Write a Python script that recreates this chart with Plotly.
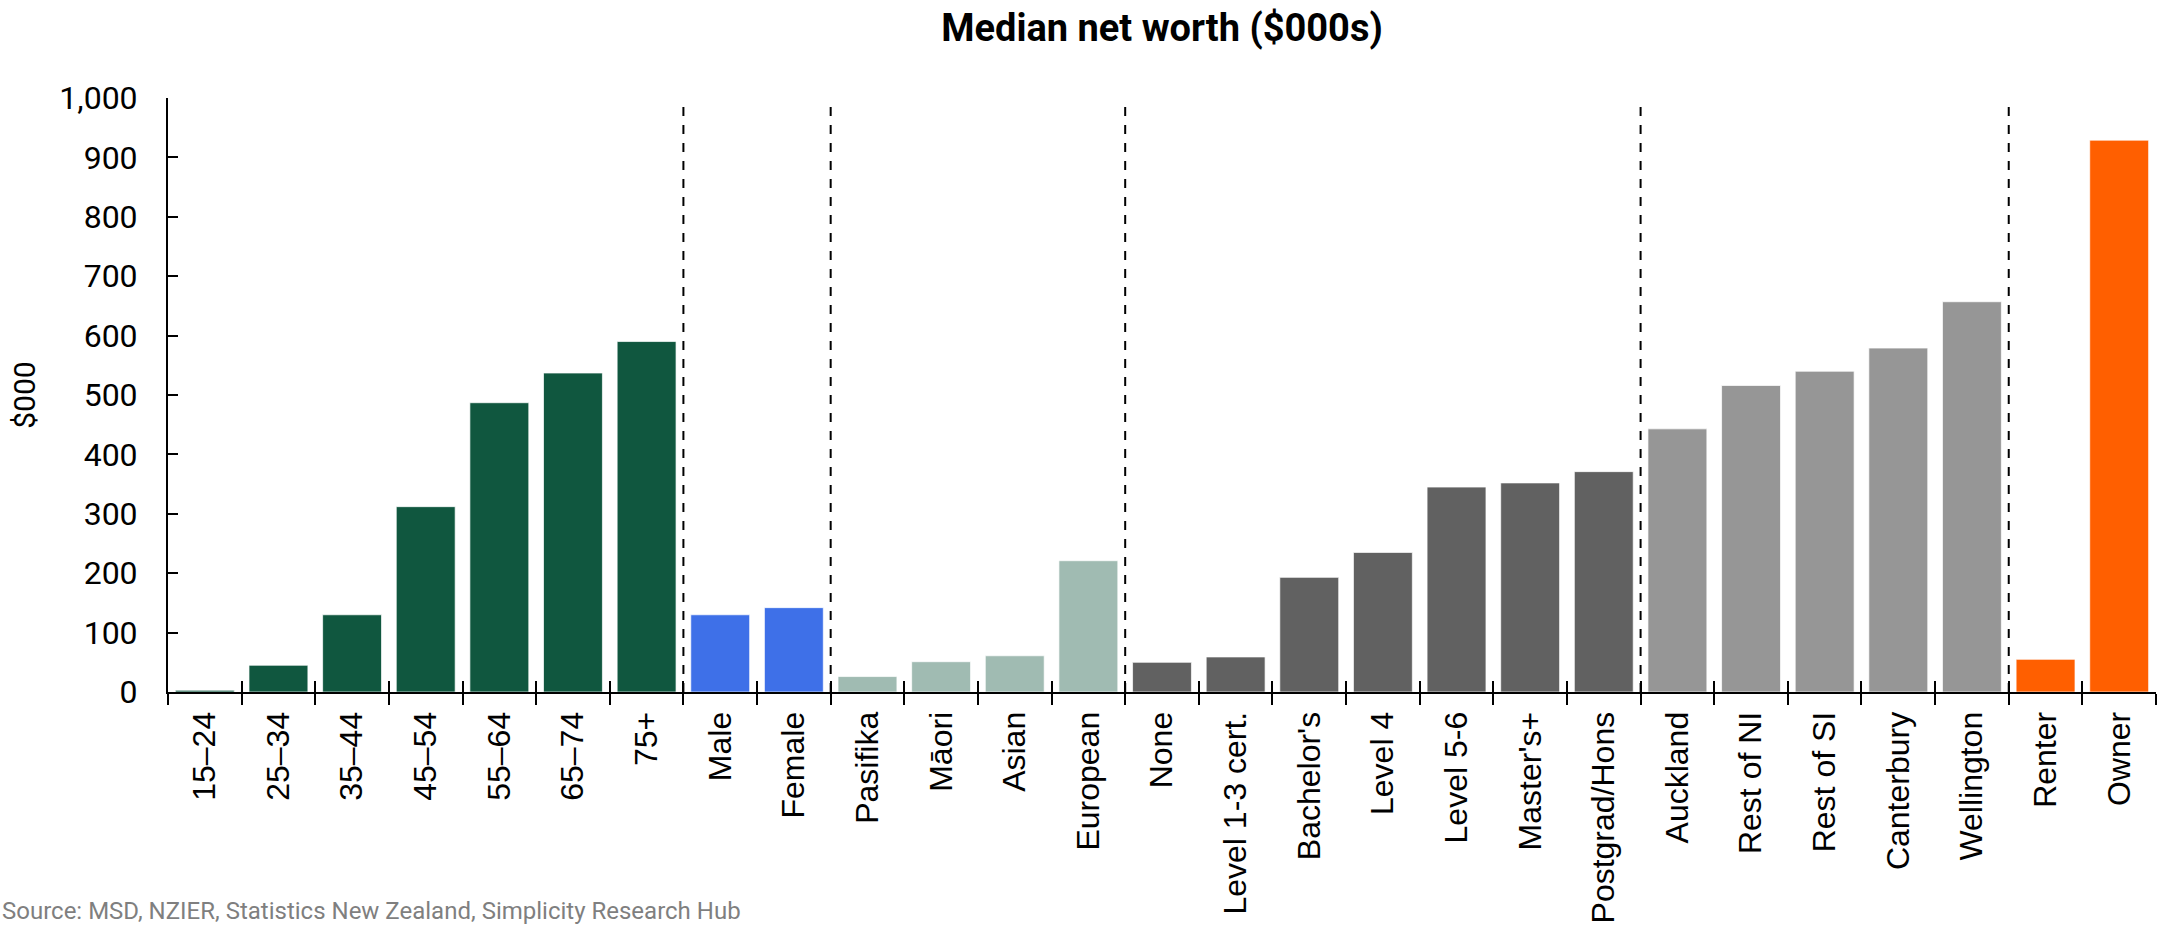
import plotly.graph_objects as go

# Median net worth by group, $000s
categories = [
    "15\u201324", "25\u201334", "35\u201344", "45\u201354", "55\u201364", "65\u201374", "75+",
    "Male", "Female",
    "Pasifika", "M\u0101ori", "Asian", "European",
    "None", "Level 1-3 cert.", "Bachelor's", "Level 4", "Level 5-6", "Master's+", "Postgrad/Hons",
    "Auckland", "Rest of NI", "Rest of SI", "Canterbury", "Wellington",
    "Renter", "Owner",
]
values = [
    3, 45, 130, 312, 487, 537, 590,
    130, 142,
    26, 51, 61, 221,
    50, 59, 193, 235, 345, 352, 371,
    443, 516, 540, 579, 657,
    55, 929,
]
group_sizes = [7, 2, 4, 7, 5, 2]
group_colors = ["#10573F", "#3E70E8", "#A0BBB2", "#616161", "#969696", "#FF5F00"]
y_ticks = list(range(0, 1001, 100))

# one colour per bar, taken from its group
bar_colors = []
for size, col in zip(group_sizes, group_colors):
    bar_colors += [col] * size

# dashed separators sit on the boundary after each group (except the last)
separators = []
pos = -0.5
for size in group_sizes[:-1]:
    pos += size
    separators.append(pos)

n = len(categories)
boundaries = [i - 0.5 for i in range(n + 1)]

fig = go.Figure()
fig.add_trace(go.Bar(
    x=categories, y=values,
    marker=dict(color=bar_colors, line=dict(color="rgba(255,255,255,0.7)", width=1)),
    showlegend=False, hoverinfo="x+y",
))
# invisible trace so the overlay axis (inward tick marks) is drawn
fig.add_trace(go.Scatter(
    x=[boundaries[0], boundaries[-1]], y=[0, 0], xaxis="x2", yaxis="y",
    mode="markers", marker=dict(opacity=0), showlegend=False, hoverinfo="skip",
))

for s in separators:
    fig.add_shape(type="line", xref="x", yref="y", x0=s, x1=s, y0=0, y1=1000,
                  line=dict(color="black", width=2, dash="dash"))

plot_left, plot_right = 168, 2156
plot_w = plot_right - plot_left

fig.update_layout(
    width=2172, height=931,
    margin=dict(l=plot_left, r=2172 - plot_right, t=98, b=239, autoexpand=False),
    paper_bgcolor="white", plot_bgcolor="white",
    bargap=0.2,
    title=dict(text="<b>Median net worth ($000s)</b>", x=0.5, xref="paper", xanchor="center",
               y=1 - 28 / 931, yanchor="middle", yref="container",
               font=dict(family="Roboto", size=38, color="black")),
    xaxis=dict(
        type="category", categoryorder="array", categoryarray=categories,
        range=[-0.5, n - 0.5], automargin=False,
        tickson="boundaries", ticks="outside", ticklen=11, tickwidth=2, tickcolor="black",
        showline=True, linecolor="black", linewidth=2, showgrid=False, zeroline=False,
        tickangle=-90, tickfont=dict(family="Liberation Sans", size=32, color="black"),
        ticklabelstandoff=5,
    ),
    xaxis2=dict(
        overlaying="x", anchor="y", side="bottom", range=[-0.5, n - 0.5], automargin=False,
        tickvals=boundaries, ticks="inside", ticklen=11, tickwidth=2, tickcolor="black",
        showticklabels=False, showline=False, showgrid=False, zeroline=False,
    ),
    yaxis=dict(
        range=[0, 1000], tickvals=y_ticks, tickformat=",", automargin=False,
        ticks="inside", ticklen=10, tickwidth=2, tickcolor="black",
        showline=True, linecolor="black", linewidth=2, showgrid=False, zeroline=False,
        tickfont=dict(family="Roboto", size=32, color="black"),
        ticklabelstandoff=22,
        title=dict(text="$000", font=dict(family="Roboto", size=30, color="black"), standoff=15),
    ),
    annotations=[dict(
        text="Source: MSD, NZIER, Statistics New Zealand, Simplicity Research Hub",
        xref="paper", yref="paper", x=-plot_left / plot_w, y=-(911 - 692) / 594,
        xanchor="left", yanchor="middle", showarrow=False,
        font=dict(family="Roboto", size=24, color="#7F7F7F"),
    )],
)

fig.write_html("out.html")
